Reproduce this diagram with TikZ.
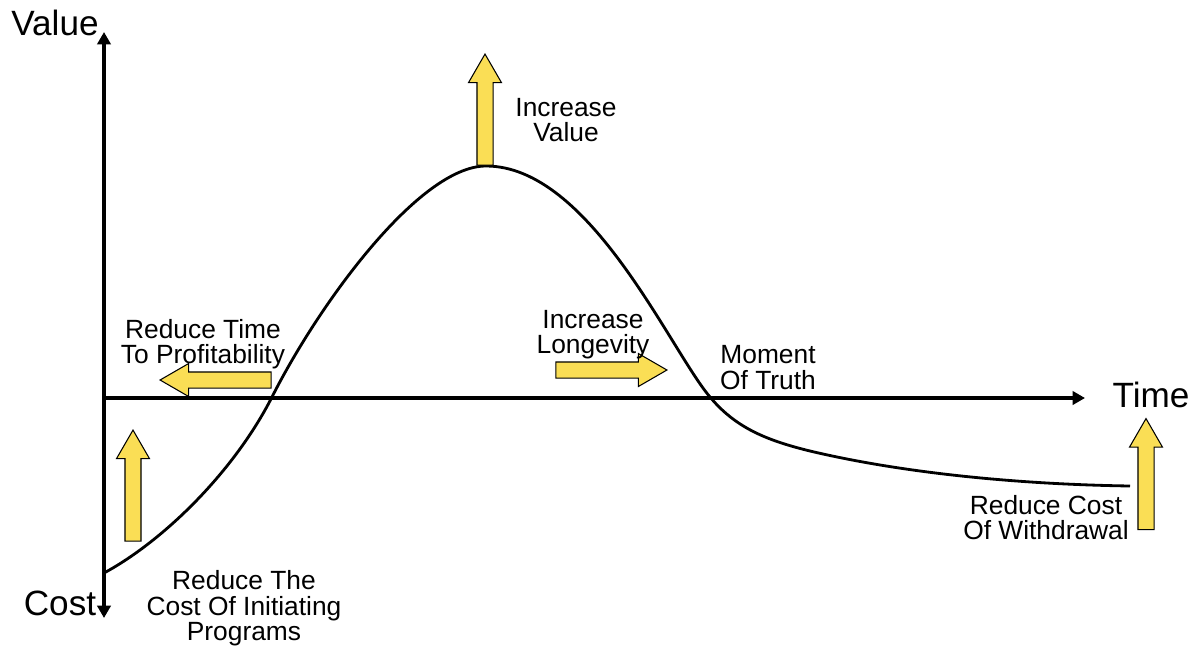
\documentclass[tikz,border=0pt]{standalone}
\usepackage{fontspec}
\setmainfont{Liberation Sans}
\usepackage{tikz}
\usetikzlibrary{arrows.meta, shapes.arrows}
\definecolor{boostyellow}{HTML}{FADE55}

\begin{document}
\begin{tikzpicture}[
    x=0.02cm, y=-0.02cm,
    axis/.style={line width=2.6pt},
    curve/.style={line width=1.6pt, line join=round},
    boost/.style={single arrow, draw=black, line width=0.6pt, fill=boostyellow,
        minimum height=2.22cm, inner sep=0.15cm, single arrow head extend=0.17cm,
        single arrow tip angle=60, single arrow head indent=0pt},
    lbl/.style={align=center, inner sep=0pt, font=\fontsize{15}{14.5}\selectfont},
    axlbl/.style={inner sep=0pt, font=\fontsize{20}{24}\selectfont}
]
    \useasboundingbox (0,0) rectangle (1194,647);

    % Assi: valore/costo e tempo
    \coordinate (vtop) at (104,32);
    \coordinate (vbot) at (104,618);
    \coordinate (orig) at (104,398);
    \coordinate (htip) at (1085,398);
    \draw[axis, {Triangle[length=7pt,width=7.5pt]}-{Triangle[length=7pt,width=7.5pt]}] (vbot) -- (vtop);
    \draw[axis, -{Triangle[length=7pt,width=7.5pt]}] (orig) -- (htip);

    \node[axlbl] (vallbl) at (55,23) {Value};
    \node[axlbl] (costlbl) at (60,603) {Cost};
    \node[axlbl] (timelbl) at (1151,395) {Time};

    % Curva del ciclo di vita
    \draw[curve] (104,573)
        .. controls (165,540) and (235,470) .. (272,397)
        .. controls (320,302) and (420,166) .. (486,166)
        .. controls (590,166) and (670,350) .. (710,397)
        .. controls (735,427) and (765,440) .. (810,451)
        .. controls (890,470) and (1000,484) .. (1130,486);

    % Frecce gialle
    \node[boost, shape border rotate=90] (upval) at (485,116.5) {};
    \node[boost, shape border rotate=180] (leftprof) at (222.5,380) {};
    \node[boost] (rightlong) at (604.5,370) {};
    \node[boost, shape border rotate=90] (upinit) at (133,492.5) {};
    \node[boost, shape border rotate=90] (upwith) at (1146,481) {};

    % Etichette
    \node[lbl] (valtxt) at (566,120) {Increase\\Value};
    \node[lbl] (proftxt) at (203,344) {Reduce Time\\To Profitability};
    \node[lbl] (longtxt) at (593,334.5) {Increase\\Longevity};
    \node[lbl] (truthtxt) at (768,367.5) {Moment\\Of Truth};
    \node[lbl] (withtxt) at (1046,517.5) {Reduce Cost\\Of Withdrawal};
    \node[lbl] (inittxt) at (244,608.5) {Reduce The\\Cost Of Initiating\\Programs};
\end{tikzpicture}
\end{document}
